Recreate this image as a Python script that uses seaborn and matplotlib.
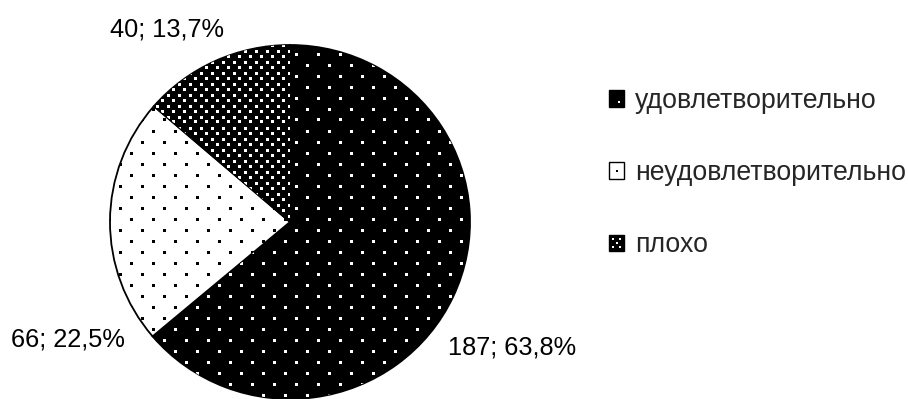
import numpy as np
import matplotlib
matplotlib.use("Agg")
import matplotlib.pyplot as plt
import seaborn as sns
from matplotlib.legend_handler import HandlerBase
from matplotlib.patches import Rectangle
from matplotlib.lines import Line2D

# Survey results
categories = ["удовлетворительно", "неудовлетворительно", "плохо"]
counts = [187, 66, 40]

sns.set_theme(style="white")
plt.rcParams["font.family"] = ["Liberation Sans", "DejaVu Sans"]

W, H = 908, 399
fig = plt.figure(figsize=(W / 100, H / 100), dpi=100)

# pie box (pixel centre and radii)
cx, cy, rx, ry = 290, 222, 180, 177
ax = fig.add_axes([(cx - rx) / W, (H - cy - ry) / H, 2 * rx / W, 2 * ry / H])

fills = ["black", "white", "black"]
dot_colors = ["white", "black", "white"]
# dot lattices (period, phase) in pixels: sparse for the first two, dense for the last
lattices = [(22, (9, 9)), (22, (9, 9)), (11, (2, 6))]

wedges, _ = ax.pie(counts, colors=fills, startangle=90, counterclock=False,
                   radius=1, wedgeprops=dict(edgecolor="black", linewidth=1.3))
ax.set_aspect("auto")
ax.set_xlim(-1, 1)
ax.set_ylim(-1, 1)
ax.axis("off")


def px_to_data(px, py):
    return (np.asarray(px) - cx) / rx, (cy - np.asarray(py)) / ry


# dotted fill texture, clipped to each wedge (dots centred on pixel centres)
for wedge, dcol, (period, (x0, y0)) in zip(wedges, dot_colors, lattices):
    wedge.set_clip_on(False)
    half = period / 2
    xs, ys = [], []
    for ox, oy in [(0, 0), (half, half)]:
        gx = np.floor(np.arange(x0 + ox, W, period)) + 0.5
        gy = np.floor(np.arange(y0 + oy, H, period)) + 0.5
        mx, my = np.meshgrid(gx, gy)
        xs.append(mx.ravel())
        ys.append(my.ravel())
    dx, dy = px_to_data(np.concatenate(xs), np.concatenate(ys))
    ln, = ax.plot(dx, dy, ls="none", marker="s", ms=2.16, mew=0, color=dcol,
                  zorder=wedge.get_zorder() + 0.5)
    ln.set_clip_path(wedge)

# value labels
total = sum(counts)
label_px = [(512, 347), (68, 339), (167, 29)]
for c, (lx, ly) in zip(counts, label_px):
    txt = f"{c}; {100 * c / total:.1f}%".replace(".", ",")
    tx, ty = px_to_data(lx, ly)
    ax.text(tx, ty, txt, ha="center", va="center", fontsize=18.3, color="black",
            clip_on=False)


class SwatchHandler(HandlerBase):
    def __init__(self, face, dot, pts):
        super().__init__()
        self.face, self.dot, self.pts = face, dot, pts

    def create_artists(self, legend, orig_handle, xdescent, ydescent,
                       width, height, fontsize, trans):
        rect = Rectangle((-xdescent, -ydescent), width, height,
                         facecolor=self.face, edgecolor="black", lw=1.0,
                         transform=trans)
        px = [-xdescent + p[0] * width for p in self.pts]
        py = [-ydescent + p[1] * height for p in self.pts]
        dots = Line2D(px, py, ls="none", marker="s", ms=2.1, mew=0,
                      color=self.dot, transform=trans)
        return [rect, dots]


handlers = {
    wedges[0]: SwatchHandler("black", "white", [(0.65, 0.3)]),
    wedges[1]: SwatchHandler("white", "black", [(0.5, 0.5)]),
    wedges[2]: SwatchHandler("black", "white",
                             [(0.25, 0.25), (0.75, 0.25), (0.25, 0.75),
                              (0.75, 0.75), (0.5, 0.5)]),
}

ax.legend(wedges, categories, handler_map=handlers, loc="center left",
          bbox_to_anchor=(609 / W, 1 - 173 / H), bbox_transform=fig.transFigure,
          frameon=False, fontsize=19.2, handlelength=0.57, handleheight=0.57,
          handletextpad=0.4, labelspacing=1.73, borderpad=0, borderaxespad=0)

fig.savefig("out.png", dpi=100, facecolor="white")
